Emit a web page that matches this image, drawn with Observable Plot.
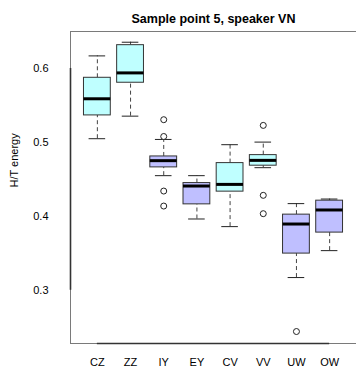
<!DOCTYPE html>
<html><head><meta charset="utf-8">
<script src="https://cdn.jsdelivr.net/npm/d3@7"></script>
<script src="https://cdn.jsdelivr.net/npm/@observablehq/plot@0.6"></script>
<style>html,body{margin:0;padding:0;background:#fff;overflow:hidden;} svg{display:block;}</style>
</head><body><div id="chart"></div>
<script>
const title = "Sample point 5, speaker VN";
const yLabel = "H/T energy";
const categories = ["CZ", "ZZ", "IY", "EY", "CV", "VV", "UW", "OW"];
const groups     = ["C",  "C",  "V",  "V",  "C",  "C",  "V",  "V"];
const lowerWhisker = [0.505, 0.5355, 0.455, 0.3964, 0.3861, 0.4658, 0.3172, 0.3536];
const q1           = [0.5365, 0.5807, 0.4662, 0.4162, 0.4334, 0.4685, 0.3496, 0.378];
const medians      = [0.559, 0.594, 0.4753, 0.441, 0.4432, 0.4757, 0.3896, 0.4086];
const q3           = [0.5874, 0.6315, 0.481, 0.445, 0.472, 0.4828, 0.4023, 0.4212];
const upperWhisker = [0.617, 0.6355, 0.504, 0.455, 0.4969, 0.5004, 0.4172, 0.4234];
const outlierCats   = ["IY", "IY", "IY", "IY", "VV", "VV", "VV", "UW"];
const outlierValues = [0.5307, 0.508, 0.4342, 0.4139, 0.523, 0.4284, 0.4036, 0.2442];
const yTicks = [0.3, 0.4, 0.5, 0.6];
const groupColors = ["#bfffff", "#bfbfff"];

const boxes = categories.map((c, i) => ({
  cat: c, pos: i + 1, group: groups[i],
  lo: lowerWhisker[i], q1: q1[i], med: medians[i], q3: q3[i], hi: upperWhisker[i]
}));
const outliers = outlierCats.map((c, i) => ({pos: categories.indexOf(c) + 1, value: outlierValues[i]}));

const pad = 0.81, halfBox = 0.404, halfCap = 0.25;
const xDomain = [1 - pad, categories.length + pad];
const yDomain = [0.228, 0.65];
const frameColor = "#7a7a7a", axisColor = "#333";

const chart = Plot.plot({
  width: 356, height: 372,
  marginTop: 31, marginBottom: 29, marginLeft: 70, marginRight: 0,
  style: {fontFamily: "'Liberation Sans', Arial, sans-serif", fontSize: "11px", background: "#fff", color: "#000"},
  x: {domain: xDomain, axis: null},
  y: {domain: yDomain, axis: null},
  color: {domain: ["C", "V"], range: groupColors},
  marks: [
    // frame (left, top, bottom)
    Plot.ruleX([xDomain[0]], {x: d => d, y1: () => yDomain[0], y2: () => yDomain[1], stroke: frameColor}),
    Plot.ruleY([yDomain[1]], {y: d => d, x1: () => xDomain[0], x2: () => xDomain[1], stroke: frameColor}),
    Plot.ruleY([yDomain[0]], {y: d => d, x1: () => xDomain[0], x2: () => xDomain[1], stroke: frameColor}),
    // axis lines
    Plot.ruleX([xDomain[0]], {x: d => d, y1: () => yTicks[0], y2: () => yTicks[yTicks.length - 1], stroke: axisColor, strokeWidth: 1.6}),
    Plot.ruleY([yDomain[0]], {y: d => d, x1: () => 1, x2: () => categories.length, stroke: axisColor, strokeWidth: 1.6}),
    // whiskers
    Plot.ruleX(boxes, {x: "pos", y1: "q3", y2: "hi", stroke: "#444", strokeDasharray: "4,3"}),
    Plot.ruleX(boxes, {x: "pos", y1: "lo", y2: "q1", stroke: "#444", strokeDasharray: "4,3"}),
    Plot.ruleY(boxes, {y: "hi", x1: d => d.pos - halfCap, x2: d => d.pos + halfCap, stroke: "#222"}),
    Plot.ruleY(boxes, {y: "lo", x1: d => d.pos - halfCap, x2: d => d.pos + halfCap, stroke: "#222"}),
    // boxes
    Plot.rect(boxes, {x1: d => d.pos - halfBox, x2: d => d.pos + halfBox, y1: "q1", y2: "q3", fill: "group", stroke: "#333", strokeWidth: 1}),
    Plot.ruleY(boxes, {y: "med", x1: d => d.pos - halfBox, x2: d => d.pos + halfBox, stroke: "#000", strokeWidth: 3}),
    // outliers
    Plot.dot(outliers, {x: "pos", y: "value", r: 3, stroke: "#222", fill: "#fff", strokeWidth: 1}),
    // axes
    Plot.axisY(yTicks, {anchor: "left", tickSize: 0, tickPadding: 22, fontSize: 11, label: null, tickFormat: d3.format(".1f")}),
    Plot.axisX(boxes.map(d => d.pos), {anchor: "bottom", tickSize: 0, tickPadding: 15, fontSize: 11, label: null, tickFormat: p => categories[p - 1]}),
    Plot.text([yLabel], {frameAnchor: "left", dx: -56, rotate: -90, fontSize: 11}),
    Plot.text([title], {frameAnchor: "top", dy: -17, fontWeight: "bold", fontSize: 12.5})
  ]
});
document.getElementById("chart").appendChild(chart);
</script>
</body></html>
